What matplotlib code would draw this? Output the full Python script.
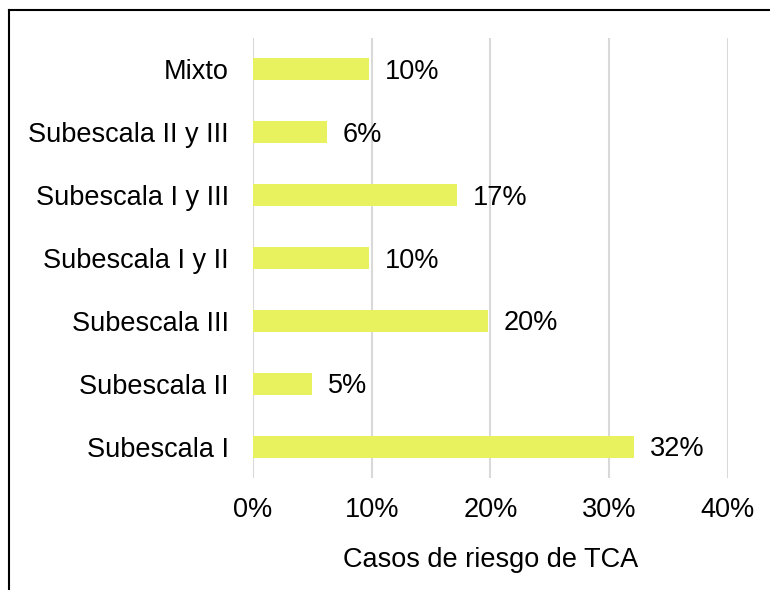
import matplotlib.pyplot as plt
from matplotlib.lines import Line2D

categories = ['Subescala I', 'Subescala II', 'Subescala III', 'Subescala I y II',
              'Subescala I y III', 'Subescala II y III', 'Mixto']
values = [32.1, 5.0, 19.8, 9.8, 17.2, 6.2, 9.8]
labels = ['32%', '5%', '20%', '10%', '17%', '6%', '10%']
ticks = [0, 10, 20, 30, 40]
tick_labels = ['0%', '10%', '20%', '30%', '40%']

plt.rcParams['font.family'] = ['Liberation Sans', 'DejaVu Sans']

fig = plt.figure(figsize=(7.7, 5.9), dpi=100)
ax = fig.add_axes([253 / 770, 1 - 478 / 590, (727.8 - 253) / 770, 440 / 590])

ypos = range(len(categories))
ax.barh(ypos, values, height=0.35, color='#E8F25E', zorder=3)
for y, v, lab in zip(ypos, values, labels):
    ax.text(v + 1.35, y - 0.04, lab, ha='left', va='center', fontsize=19.5, color='#000000')

ax.set_xlim(0, 40)
ax.set_ylim(-0.5, len(categories) - 0.5)
ax.set_xticks(ticks)
ax.set_xticklabels(tick_labels, fontsize=19.5, color='#000000')
ax.set_yticks(list(ypos))
ax.set_yticklabels(categories, fontsize=19.5, color='#000000')
ax.tick_params(axis='both', length=0)
ax.tick_params(axis='x', pad=14)
ax.tick_params(axis='y', pad=17.5)
ax.xaxis.grid(True, color='#D9D9D9', linewidth=1.5, zorder=0)
for s in ax.spines.values():
    s.set_visible(False)
ax.set_xlabel('Casos de riesgo de TCA', fontsize=19.5, color='#000000', labelpad=17)

# outer frame (only top and left visible in the reference)
fig.add_artist(Line2D([9 / 770, 9 / 770], [0, 1 - 10 / 590], color='black', linewidth=1.5))
fig.add_artist(Line2D([9 / 770, 1], [1 - 10 / 590, 1 - 10 / 590], color='black', linewidth=1.5))

fig.savefig('out.png', dpi=100)
